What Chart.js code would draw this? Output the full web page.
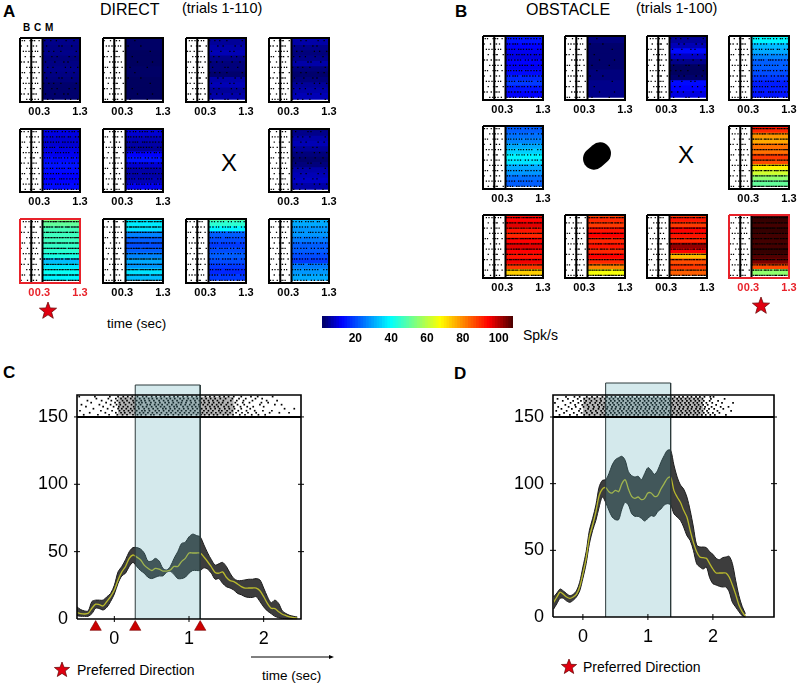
<!DOCTYPE html>
<html>
<head>
<meta charset="utf-8">
<title>Direct and obstacle trials</title>
<script src="https://cdn.jsdelivr.net/npm/chart.js@4/dist/chart.umd.min.js"></script>
<style>
  html, body { margin: 0; padding: 0; background: #fff; }
  #page { position: relative; width: 797px; height: 685px; overflow: hidden; font-family: "Liberation Sans", Arial, sans-serif; color: #000; }
  #page canvas { position: absolute; }
  .txt { position: absolute; white-space: nowrap; line-height: 1; }
  .letter { font-weight: bold; font-size: 17px; }
  svg { position: absolute; left: 0; top: 0; }
  #blob { position: absolute; left: 582px; top: 145px; width: 30px; height: 22px; border-radius: 11px; background: #000; transform: rotate(-42deg); }
</style>
</head>
<body>
<div id="page">
  <div class="txt letter" style="left:3px;top:3px">A</div>
  <div class="txt letter" style="left:455px;top:3px">B</div>
  <div class="txt letter" style="left:3px;top:364px">C</div>
  <div class="txt letter" style="left:454px;top:365px">D</div>
  <div class="txt" style="left:100px;top:2px;font-size:16px">DIRECT</div>
  <div class="txt" style="left:182px;top:1px;font-size:14.5px">(trials 1-110)</div>
  <div class="txt" style="left:526px;top:2px;font-size:16px">OBSTACLE</div>
  <div class="txt" style="left:636px;top:1px;font-size:14.5px">(trials 1-100)</div>
  <div class="txt" style="left:23px;top:23px;font-size:10px;font-weight:bold;word-spacing:1px">B C M</div>
  <div class="txt" style="left:107px;top:317px;font-size:13.5px">time (sec)</div>
  <div class="txt" style="left:523px;top:328px;font-size:14px">Spk/s</div>
  <div class="txt" style="left:221px;top:151px;font-size:24px">X</div>
  <div class="txt" style="left:678px;top:143px;font-size:24px">X</div>
  <div id="blob"></div>
  <div class="txt" style="left:77px;top:663px;font-size:14px">Preferred Direction</div>
  <div class="txt" style="left:583px;top:660px;font-size:14px">Preferred Direction</div>
  <div class="txt" style="left:262px;top:669px;font-size:13.5px">time (sec)</div>
  <svg width="797" height="685" id="marks">
    <line x1="251" y1="657" x2="330" y2="657" stroke="#000" stroke-width="1"/>
    <polygon points="334,657 329,655 329,659" fill="#000"/>
  </svg>
</div>
<script>
// rate per trial row (spk/s), top row first. null = no panel at that position
const directRates = [
  [4,4,3.5,4,3,3.5,4,3.5,3,2,2,2],
  [1.5,1.5,1.5,1,1,1,1.5,1.5,1,1,1,1],
  [4,5,6,7,4,3,3,2,6,7,5,6],
  [7,6,4,3,4,6,3,2,3,5,6,7],
  [11,10,9,9,10,11,13,14,13,12,12,13],
  [10,9,7,6,5,12,14,9,6,6,7,11],
  null,
  [3,4,6,7,5,3,2,3,6,7,8,6],
  [56,50,47,46,46,45,44,42,32,36,40,38],
  [37,37,36,26,22,20,22,26,30,28,36,32],
  [52,44,38,22,20,18,20,22,20,18,16,18],
  [32,30,28,28,25,22,22,20,18,25,28,30]
];
const obstacleRates = [
  [16,14,12,11,10,12,11,13,16,18,14,12],
  [3,3,2,2,2,2,2,3,3,4,4,4],
  [3,5,7,13,8,4,1,1,2,13,12,10],
  [40,38,32,30,26,22,22,20,18,15,15,14],
  [22,22,24,26,30,34,38,36,30,28,24,22],
  null,
  null,
  [94,90,78,76,82,82,88,86,68,62,55,50],
  [92,94,96,92,90,94,96,94,92,95,88,72],
  [84,90,88,92,94,90,92,90,94,90,80,66],
  [84,92,88,94,92,90,102,94,74,86,88,84],
  [108,109,108,109,108,108,108,109,107,104,86,55]
];
const directDensity = ["sparse","rare","sparse","sparse","mid","mid",null,"sparse","dense","dense","mid","mid"];
const obstacleDensity = ["mid","rare","sparse","mid","mid",null,null,"dense","dense","dense","dense","dense"];
const redPanels = { direct: 8, obstacle: 11 };

// spike times in the baseline part of a small raster
const baseSpikes = [
  [-0.24,-0.18,-0.03,0.04,0.09,0.21],
  [-0.27,-0.1,0.01,0.06,0.14],
  [-0.21,-0.14,-0.06,0.03,0.11,0.17],
  [-0.16,-0.02,0.05,0.08,0.24],
  [-0.26,-0.19,-0.08,0.02,0.07,0.13],
  [-0.12,-0.04,0.03,0.1,0.19]
];
// spike times in the movement part of a small raster
const heatSpikes = {
  rare: [
    [0.42,0.88],[0.55],[0.37,0.71],[0.96],[0.48],[0.62,1.02]
  ],
  sparse: [
    [0.36,0.52,0.67,0.93,1.14],
    [0.41,0.74,0.82,1.08],
    [0.33,0.47,0.6,0.79,1.2],
    [0.55,0.69,1.01,1.17],
    [0.38,0.63,0.87,0.98],
    [0.44,0.58,0.91,1.05,1.24]
  ],
  mid: [
    [0.32,0.38,0.44,0.52,0.59,0.67,0.73,0.84,0.9,0.98,1.06,1.13,1.22],
    [0.35,0.41,0.5,0.56,0.62,0.76,0.81,0.87,0.95,1.03,1.1,1.19,1.27],
    [0.33,0.4,0.47,0.54,0.65,0.71,0.78,0.86,0.93,1.0,1.16,1.24],
    [0.36,0.43,0.49,0.6,0.66,0.74,0.8,0.89,0.97,1.07,1.12,1.21,1.28],
    [0.31,0.39,0.46,0.55,0.63,0.7,0.83,0.91,1.01,1.09,1.15,1.25],
    [0.34,0.42,0.51,0.57,0.68,0.75,0.82,0.88,0.99,1.04,1.18,1.26]
  ],
  dense: [
    [0.31,0.34,0.38,0.41,0.45,0.49,0.52,0.56,0.6,0.63,0.69,0.72,0.76,0.79,0.83,0.87,0.9,0.94,0.97,1.02,1.05,1.09,1.12,1.17,1.2,1.24,1.28],
    [0.32,0.36,0.39,0.43,0.47,0.5,0.54,0.58,0.62,0.66,0.7,0.73,0.77,0.81,0.85,0.88,0.92,0.99,1.03,1.06,1.1,1.14,1.18,1.22,1.26],
    [0.3,0.33,0.37,0.42,0.46,0.51,0.55,0.59,0.61,0.65,0.68,0.74,0.78,0.82,0.86,0.89,0.93,0.96,1.0,1.04,1.08,1.13,1.16,1.21,1.25,1.29],
    [0.34,0.35,0.4,0.44,0.48,0.53,0.57,0.64,0.67,0.71,0.75,0.8,0.84,0.91,0.95,0.98,1.01,1.07,1.11,1.15,1.19,1.23,1.27],
    [0.31,0.36,0.41,0.44,0.47,0.52,0.56,0.6,0.64,0.69,0.73,0.77,0.8,0.85,0.9,0.94,0.97,1.03,1.06,1.1,1.13,1.18,1.22,1.28],
    [0.33,0.38,0.42,0.46,0.5,0.54,0.58,0.62,0.66,0.7,0.75,0.79,0.83,0.87,0.92,0.96,1.0,1.05,1.09,1.14,1.17,1.2,1.24,1.27]
  ]
};

// panel C, firing rate
const timeC = [-0.5,-0.45,-0.4,-0.35,-0.3,-0.25,-0.2,-0.15,-0.1,-0.05,0,0.05,0.1,0.15,0.2,0.25,0.3,0.35,0.4,0.45,0.5,0.55,0.6,0.65,0.7,0.75,0.8,0.85,0.9,0.95,1,1.05,1.1,1.15,1.2,1.25,1.3,1.35,1.4,1.45,1.5,1.55,1.6,1.65,1.7,1.75,1.8,1.85,1.9,1.95,2,2.05,2.1,2.15,2.2,2.25,2.3,2.35,2.4,2.45];
const meanC = [4.7,4,3.7,4.2,8,11,10.6,9.7,13,16.6,21.5,29,35,39,45,47.5,46,44,40,37.6,36,37.6,37,35.6,35.6,36.4,39,39,42.6,45,49,49,49,49,46,42.5,38.6,34.6,34,35,31,28.5,27.7,26,24,23,23,23,23,21,16.6,11.6,8,7.7,5.4,3.5,2.5,1.5,1,0.7];
const upperC = [9,7,6,6,13,14,14,14,16.5,19,25,35,39,44,50,53,53,52,49,43,43,45,43,37.6,36.4,39,45,50,56,57,61,63,62,61,55,49,44,40,41,42,39,34,30,28.5,28.5,29,29.5,29.5,30,29,23,16.6,12,14,11.6,6,4,2.7,2,1.5];
const lowerC = [2.5,2,2,2,4,8,7.7,6.7,8.7,13,18.5,26.5,32,34,39,42,39,36,34,31,30,31,32,32,34.7,35.4,33,30,30,31,34,36,36,36,38,37,34,29.5,30,26.5,24,23,21.5,19,18,16.6,16,16,16.6,13,9,6,4,2,1,0.5,0.3,0.2,0.2,0.2];

// panel D, firing rate
const timeD = [-0.45,-0.4,-0.35,-0.3,-0.25,-0.2,-0.15,-0.1,-0.05,0,0.05,0.1,0.15,0.2,0.25,0.3,0.35,0.4,0.45,0.5,0.55,0.6,0.65,0.7,0.75,0.8,0.85,0.9,0.95,1,1.05,1.1,1.15,1.2,1.25,1.3,1.35,1.4,1.45,1.5,1.55,1.6,1.65,1.7,1.75,1.8,1.85,1.9,1.95,2,2.05,2.1,2.15,2.2,2.25,2.3,2.35,2.4,2.45,2.5];
const meanD = [11,15,18.7,17,15,14,15,17,22.5,32.5,44,60,69,79,91,96,97,94,93,95,94,100,103,96,90.5,89,90,88,89,93,93,90.5,91,96,100,104,105,95,90,86,80,75,65,56,49,45,44.5,44,40,36,33,33,33,33,30,24,17,9,4,0.5];
const upperD = [15,18,21,19.5,17.5,16,17,19.5,26,37.5,49,65,74,84,97.5,102.5,103,107.5,114,118,119.5,120.5,117.5,109,106,105,105.5,103,107.5,112,110,107,110,116,121,125,125,114,105,99,96,90,80,67.5,54,52.5,52.5,52,49,47,44,43,44.5,45,45.5,40,27.5,16,8,2.5];
const lowerD = [6,10,14,14,12,11,12.5,15,19.5,29,40,55,65,72.5,82.5,90,86,80,75,73,73,81,86,84,77.5,75.5,75.5,74,72,74,76,75.5,79,81,84,85,84,77.5,75,72.5,67.5,61,57.5,50,40,37.5,36,37.5,29.5,25,24,23,22.5,22.5,19,11,7.5,4,1,0];

const yTicksBig = [0,50,100,150];
const xTicksBig = [0,1,2];
const eventTimesC = [-0.25,0.28,1.15];

// raster strips above the rate plots, one list per trial line
const stripC = [
  [-0.41,-0.22,-0.07,0.04,0.11,0.17,0.25,0.31,0.36,0.42,0.49,0.53,0.61,0.68,0.72,0.79,0.86,0.91,0.97,1.03,1.1,1.16,1.21,1.27,1.33,1.38,1.46,1.52,1.59,1.68,1.75,1.84,1.93,2.02],
  [-0.33,-0.12,0.02,0.09,0.14,0.21,0.28,0.34,0.39,0.45,0.51,0.57,0.63,0.7,0.76,0.82,0.88,0.94,1.0,1.06,1.12,1.18,1.24,1.3,1.36,1.42,1.49,1.55,1.63,1.71,1.79,1.9,2.08,2.21,2.34],
  [-0.46,-0.18,-0.03,0.07,0.13,0.19,0.24,0.3,0.37,0.41,0.47,0.55,0.6,0.66,0.73,0.78,0.85,0.9,0.96,1.02,1.08,1.15,1.2,1.26,1.32,1.4,1.44,1.51,1.58,1.66,1.77,1.88,1.99,2.11],
  [-0.28,-0.09,0.05,0.1,0.16,0.22,0.27,0.33,0.4,0.46,0.52,0.58,0.65,0.69,0.75,0.81,0.87,0.93,0.99,1.05,1.11,1.17,1.23,1.29,1.35,1.41,1.48,1.54,1.61,1.7,1.82,2.28,2.41],
  [-0.38,-0.15,-0.01,0.06,0.12,0.18,0.26,0.32,0.38,0.43,0.5,0.56,0.62,0.67,0.74,0.8,0.84,0.92,0.98,1.04,1.09,1.14,1.22,1.28,1.34,1.39,1.47,1.53,1.6,1.69,1.78,1.86,2.0],
  [-0.44,-0.2,-0.05,0.03,0.08,0.15,0.23,0.29,0.35,0.44,0.48,0.54,0.59,0.64,0.71,0.77,0.83,0.89,0.95,1.01,1.07,1.13,1.19,1.25,1.31,1.37,1.43,1.5,1.57,1.65,1.74,1.95,2.15,2.24],
  [-0.31,-0.11,0.01,0.07,0.13,0.2,0.26,0.33,0.37,0.42,0.49,0.55,0.61,0.68,0.73,0.79,0.86,0.9,0.96,1.03,1.09,1.16,1.21,1.27,1.33,1.4,1.45,1.52,1.62,1.72,1.81,1.97,2.06],
  [-0.36,-0.17,-0.04,0.04,0.11,0.17,0.25,0.3,0.36,0.41,0.47,0.53,0.6,0.66,0.72,0.78,0.84,0.91,0.97,1.02,1.08,1.14,1.2,1.26,1.32,1.38,1.46,1.56,1.64,1.73,1.85,2.04,2.18],
  [-0.24,-0.08,0.02,0.09,0.15,0.22,0.28,0.34,0.4,0.46,0.51,0.57,0.63,0.7,0.75,0.81,0.88,0.93,0.99,1.06,1.11,1.17,1.23,1.29,1.35,1.42,1.49,1.58,1.67,1.76,1.89,1.98],
  [-0.47,-0.26,-0.06,0.05,0.12,0.18,0.24,0.31,0.38,0.43,0.5,0.56,0.62,0.67,0.74,0.8,0.85,0.92,0.98,1.04,1.1,1.15,1.22,1.28,1.34,1.41,1.47,1.53,1.6,1.7,1.83,1.92,2.12]
];
const stripD = [
  [-0.36,-0.2,-0.09,0.02,0.1,0.18,0.27,0.33,0.39,0.46,0.52,0.59,0.66,0.72,0.79,0.85,0.92,0.98,1.05,1.11,1.18,1.24,1.31,1.37,1.44,1.5,1.57,1.63,1.7,1.76,1.83,1.89,1.96,2.03,2.2],
  [-0.29,-0.14,-0.02,0.06,0.14,0.22,0.3,0.36,0.43,0.49,0.56,0.62,0.69,0.75,0.82,0.88,0.95,1.01,1.08,1.14,1.21,1.27,1.34,1.4,1.47,1.53,1.6,1.66,1.73,1.79,1.86,1.93,2.0,2.1],
  [-0.41,-0.25,-0.06,0.04,0.12,0.2,0.28,0.34,0.41,0.47,0.54,0.6,0.67,0.73,0.8,0.86,0.93,0.99,1.06,1.12,1.19,1.25,1.32,1.38,1.45,1.51,1.58,1.64,1.71,1.77,1.84,1.91,2.07,2.28],
  [-0.33,-0.17,-0.04,0.08,0.16,0.24,0.31,0.37,0.44,0.5,0.57,0.63,0.7,0.76,0.83,0.89,0.96,1.02,1.09,1.15,1.22,1.28,1.35,1.41,1.48,1.54,1.61,1.67,1.74,1.8,1.87,1.94,2.02,2.16],
  [-0.38,-0.22,-0.11,0.01,0.09,0.17,0.25,0.32,0.38,0.45,0.51,0.58,0.64,0.71,0.77,0.84,0.9,0.97,1.03,1.1,1.16,1.23,1.29,1.36,1.42,1.49,1.55,1.62,1.68,1.75,1.81,1.88,1.98,2.12,2.24],
  [-0.27,-0.12,-0.01,0.07,0.15,0.23,0.29,0.35,0.42,0.48,0.55,0.61,0.68,0.74,0.81,0.87,0.94,1.0,1.07,1.13,1.2,1.26,1.33,1.39,1.46,1.52,1.59,1.65,1.72,1.78,1.85,1.92,2.05],
  [-0.43,-0.19,-0.07,0.03,0.11,0.19,0.26,0.33,0.4,0.46,0.53,0.59,0.66,0.72,0.79,0.85,0.92,0.98,1.05,1.11,1.18,1.24,1.31,1.37,1.44,1.5,1.57,1.63,1.7,1.76,1.83,1.9,1.99,2.14,2.31],
  [-0.31,-0.15,-0.03,0.05,0.13,0.21,0.28,0.36,0.43,0.49,0.56,0.62,0.69,0.75,0.82,0.88,0.95,1.01,1.08,1.14,1.21,1.27,1.34,1.4,1.47,1.53,1.6,1.66,1.73,1.79,1.86,1.95,2.08],
  [-0.39,-0.23,-0.08,0.02,0.1,0.18,0.27,0.34,0.41,0.47,0.54,0.6,0.67,0.73,0.8,0.86,0.93,0.99,1.06,1.12,1.19,1.25,1.32,1.38,1.45,1.51,1.58,1.64,1.71,1.77,1.84,1.97,2.18],
  [-0.26,-0.13,-0.05,0.06,0.14,0.22,0.3,0.37,0.44,0.5,0.57,0.63,0.7,0.76,0.83,0.89,0.96,1.02,1.09,1.15,1.22,1.28,1.35,1.41,1.48,1.54,1.61,1.67,1.74,1.8,1.87,1.96,2.01]
];

const smallTicks = [0,0.3,1.3];
const colorbarTicks = [20,40,60,80,100];
const rowLabels = ["1","2","3","4","5","6","7","8","9","10","11","12"];

// jet style colormap over spk/s
const jetStops = [[0,[0,0,80]],[12,[0,0,255]],[39,[0,255,255]],[67,[255,255,0]],[94,[255,0,0]],[110,[40,0,0]]];
function jet(v) {
  for (let i = 1; i < jetStops.length; i++) {
    if (v <= jetStops[i][0]) {
      const [v0, c0] = jetStops[i - 1];
      const [v1, c1] = jetStops[i];
      const f = (v - v0) / (v1 - v0);
      return `rgb(${c0.map((c, k) => Math.round(c + (c1[k] - c) * f)).join(",")})`;
    }
  }
  return "rgb(40,0,0)";
}

Chart.defaults.font.family = '"Liberation Sans", Arial, sans-serif';
Chart.defaults.animation = false;
Chart.defaults.events = [];
Chart.defaults.plugins.legend.display = false;
Chart.defaults.plugins.tooltip.enabled = false;

function addCanvas(left, top, width, height) {
  const c = document.createElement("canvas");
  c.width = width;
  c.height = height;
  c.style.left = left + "px";
  c.style.top = top + "px";
  c.style.width = width + "px";
  c.style.height = height + "px";
  document.getElementById("page").appendChild(c);
  return c;
}

function polyline(points, color, width, order) {
  return { type: "scatter", indexAxis: "x", xAxisID: "x", yAxisID: "yr", data: points, showLine: true, borderColor: color, borderWidth: width, pointRadius: 0, clip: false, order };
}

function smallPanel(left, top, height, rates, density, panelIndex, isRed) {
  const pad = 14, topPad = 2, labelH = 22;
  const canvas = addCanvas(left - pad, top - topPad, 60 + pad * 2, height + topPad + labelH);
  const spikes = [];
  rowLabels.forEach((_, row) => {
    baseSpikes[(row + panelIndex) % 6].forEach(t => spikes.push({ x: t, y: row + 0.5 }));
    heatSpikes[density][(row + panelIndex) % 6].forEach(t => spikes.push({ x: t, y: row + 0.5 }));
  });
  const edge = isRed ? "#e8222a" : "#000";
  new Chart(canvas, {
    type: "bar",
    data: {
      labels: rowLabels,
      datasets: [
        { data: rates.map(() => [0.3, 1.3]), backgroundColor: rates.map(jet), barThickness: height / 12 + 0.6, borderWidth: 0, order: 5 },
        { type: "scatter", indexAxis: "x", xAxisID: "x", yAxisID: "yr", data: spikes, backgroundColor: "#000", borderWidth: 0, pointStyle: "rect", pointRadius: 0.9, order: 4 },
        polyline([{ x: 0, y: 0 }, { x: 0, y: 12 }], "#000", 2, 3),
        polyline([{ x: 0.3, y: 0 }, { x: 0.3, y: 12 }], "#000", 2, 3),
        polyline([{ x: -0.3, y: 0 }, { x: 1.3, y: 0 }, { x: 1.3, y: 12 }, { x: -0.3, y: 12 }, { x: -0.3, y: 0 }], edge, 2, 2)
      ]
    },
    options: {
      responsive: false,
      indexAxis: "y",
      layout: { padding: { left: pad, right: pad, top: topPad, bottom: 0 } },
      scales: {
        x: {
          type: "linear", min: -0.3, max: 1.3,
          grid: { display: false, drawTicks: false }, border: { display: false },
          afterBuildTicks: s => { s.ticks = smallTicks.map(v => ({ value: v })); },
          afterFit: s => { s.height = labelH; },
          ticks: { color: isRed ? "#e8222a" : "#000", font: { size: 11, weight: "bold" }, padding: 3, maxRotation: 0, autoSkip: false, callback: v => String(v) }
        },
        y: { type: "category", display: false },
        yr: { type: "linear", display: false, min: 0, max: 12, reverse: true, offset: false, beginAtZero: false }
      }
    }
  });
}

const dirCols = [20, 103, 186, 269];
const dirRows = [[36, 66], [127, 65], [217, 66]];
const obsCols = [483, 565, 647, 729];
const obsRows = [[34, 66], [124, 65], [213, 65]];
directRates.forEach((rates, i) => {
  if (!rates) return;
  const [top, h] = dirRows[Math.floor(i / 4)];
  smallPanel(dirCols[i % 4], top, h, rates, directDensity[i], i, i === redPanels.direct);
});
obstacleRates.forEach((rates, i) => {
  if (!rates) return;
  const [top, h] = obsRows[Math.floor(i / 4)];
  smallPanel(obsCols[i % 4], top, h, rates, obstacleDensity[i], i, i === redPanels.obstacle);
});

// colour bar
(function () {
  const steps = [];
  for (let v = 1.4; v < 108; v += 1.5) steps.push(v);
  const pad = 14;
  const canvas = addCanvas(322 - pad, 316, 191 + pad * 2, 30);
  new Chart(canvas, {
    type: "bar",
    data: {
      labels: ["rate"],
      datasets: steps.map(v => ({ data: [[v, Math.min(v + 1.8, 108)]], backgroundColor: jet(v + 0.75), barPercentage: 1, categoryPercentage: 1, borderWidth: 0, grouped: false }))
    },
    options: {
      responsive: false,
      indexAxis: "y",
      layout: { padding: { left: pad, right: pad } },
      scales: {
        x: {
          type: "linear", min: 1.4, max: 108,
          grid: { display: false, drawTicks: false }, border: { display: false },
          afterBuildTicks: s => { s.ticks = colorbarTicks.map(v => ({ value: v })); },
          afterFit: s => { s.height = 18; },
          ticks: { color: "#000", font: { size: 12, weight: "bold" }, padding: 3, maxRotation: 0, autoSkip: false }
        },
        y: { type: "category", display: false }
      }
    }
  });
})();

function ratePanel(o) {
  const toPts = (ys) => o.time.map((t, i) => ({ x: t, y: ys[i] }));
  const line = (data, color, width, order) => ({ data, showLine: true, borderColor: color, borderWidth: width, pointRadius: 0, clip: false, order });
  const spikes = [];
  o.strip.forEach((row, r) => row.forEach(t => spikes.push({ x: t, y: 151.6 + r * 1.5 })));
  const tickMarks = (pts, rot) => ({ data: pts, pointStyle: "line", pointRadius: 3, pointRotation: rot, borderColor: "#000", borderWidth: 1, clip: false, order: 0 });
  const datasets = [
    { data: toPts(o.upper), showLine: true, tension: 0.3, borderColor: "#1c1c1c", borderWidth: 1, pointRadius: 0, backgroundColor: "rgb(61,61,61)", fill: "+1", order: 9 },
    { data: toPts(o.lower), showLine: true, tension: 0.3, borderColor: "#1c1c1c", borderWidth: 1, pointRadius: 0, order: 8 },
    { data: toPts(o.mean), showLine: true, tension: 0.3, borderColor: "#b9b92c", borderWidth: 1.3, pointRadius: 0, order: 7 },
    { data: [{ x: o.stripFrom, y: 165 }, { x: o.stripTo, y: 165 }], showLine: true, pointRadius: 0, borderWidth: 0, backgroundColor: "rgba(110,110,110,0.5)", fill: { value: 151 }, order: 10 },
    { data: spikes, backgroundColor: "#000", borderWidth: 0, pointStyle: "rect", pointRadius: 1.2, order: 6 },
    { data: [{ x: o.shade[0], y: o.yMax }, { x: o.shade[1], y: o.yMax }], showLine: true, pointRadius: 0, borderWidth: 0, backgroundColor: "rgba(84,168,180,0.25)", fill: { value: 0 }, order: 5 },
    line([{ x: o.shade[0], y: 0 }, { x: o.shade[0], y: o.yMax }, { x: o.shade[1], y: o.yMax }, { x: o.shade[1], y: 0 }], "#2c3a3c", 1, 4),
    line([{ x: o.xMin, y: 0 }, { x: o.xMin, y: o.boxTop }, { x: o.xMax, y: o.boxTop }, { x: o.xMax, y: 0 }, { x: o.xMin, y: 0 }], "#000", 1.6, 3),
    line([{ x: o.xMin, y: 150 }, { x: o.xMax, y: 150 }], "#000", 2, 3),
    tickMarks(xTicksBig.map(t => ({ x: t, y: 0 })), 90),
    tickMarks(yTicksBig.slice(1).map(v => ({ x: o.xMin, y: v })), 0),
    tickMarks(yTicksBig.slice(1).map(v => ({ x: o.xMax, y: v })), 0)
  ];
  if (o.events) {
    datasets.push({ data: o.events.map(t => ({ x: t, y: -6 })), pointStyle: "triangle", pointRadius: 6.5, backgroundColor: "#cc0000", borderColor: "#7a0000", borderWidth: 0.6, clip: false, order: 1 });
  }
  // tick padding of the y axis pushes the plot down by ~20px, so start the canvas that much higher
  const topPad = 20;
  // points outside the plot area are not drawn, so the scale runs a little below zero for the event triangles
  const belowZero = 9;
  const yMin = -belowZero * o.yMax / (o.bottom - o.shadeTopPx);
  const canvas = addCanvas(o.canvasLeft, o.shadeTopPx - topPad, o.right - o.canvasLeft + 40, o.bottom - o.shadeTopPx + topPad + 32);
  new Chart(canvas, {
    type: "scatter",
    data: { datasets },
    options: {
      responsive: false,
      layout: { padding: { left: 0, right: 40, top: topPad, bottom: 0 } },
      scales: {
        x: {
          type: "linear", min: o.xMin, max: o.xMax,
          grid: { display: false, drawTicks: false }, border: { display: false },
          afterBuildTicks: s => { s.ticks = xTicksBig.map(v => ({ value: v })); },
          afterFit: s => { s.height = 32 - belowZero; },
          ticks: { color: "#000", font: { size: 18 }, padding: 0, maxRotation: 0, autoSkip: false }
        },
        y: {
          type: "linear", min: yMin, max: o.yMax,
          grid: { display: false, drawTicks: false }, border: { display: false },
          afterBuildTicks: s => { s.ticks = yTicksBig.map(v => ({ value: v })); },
          afterFit: s => { s.width = o.left - o.canvasLeft; },
          ticks: { color: "#000", font: { size: 18 }, padding: 9, autoSkip: false }
        }
      }
    }
  });
}

ratePanel({
  time: timeC, mean: meanC, upper: upperC, lower: lowerC, strip: stripC, events: eventTimesC,
  xMin: -0.5, xMax: 2.5, yMax: 173.7, boxTop: 166.3, shade: [0.28, 1.15], stripFrom: 0.05, stripTo: 1.6,
  canvasLeft: 0, left: 77, right: 301, shadeTopPx: 385, bottom: 619
});
ratePanel({
  time: timeD, mean: meanD, upper: upperD, lower: lowerD, strip: stripD,
  xMin: -0.46, xMax: 2.94, yMax: 175.5, boxTop: 166.5, shade: [0.35, 1.35], stripFrom: 0, stripTo: 1.85,
  canvasLeft: 470, left: 553, right: 774, shadeTopPx: 383, bottom: 617
});

// red stars
const starCentres = [[48, 311, 9], [761, 306, 9], [62, 670, 8], [569, 667, 8]];
const marks = document.getElementById("marks");
const starAngles = [0, 1, 2, 3, 4, 5, 6, 7, 8, 9];
starCentres.forEach(([cx, cy, r]) => {
  const pts = starAngles.map(k => {
    const a = -Math.PI / 2 + k * Math.PI / 5;
    const rad = k % 2 ? r * 0.42 : r;
    return (cx + rad * Math.cos(a)).toFixed(1) + "," + (cy + rad * Math.sin(a)).toFixed(1);
  }).join(" ");
  const p = document.createElementNS("http://www.w3.org/2000/svg", "polygon");
  p.setAttribute("points", pts);
  p.setAttribute("fill", "#e00010");
  p.setAttribute("stroke", "#600000");
  p.setAttribute("stroke-width", "0.7");
  marks.appendChild(p);
});
</script>
</body>
</html>
